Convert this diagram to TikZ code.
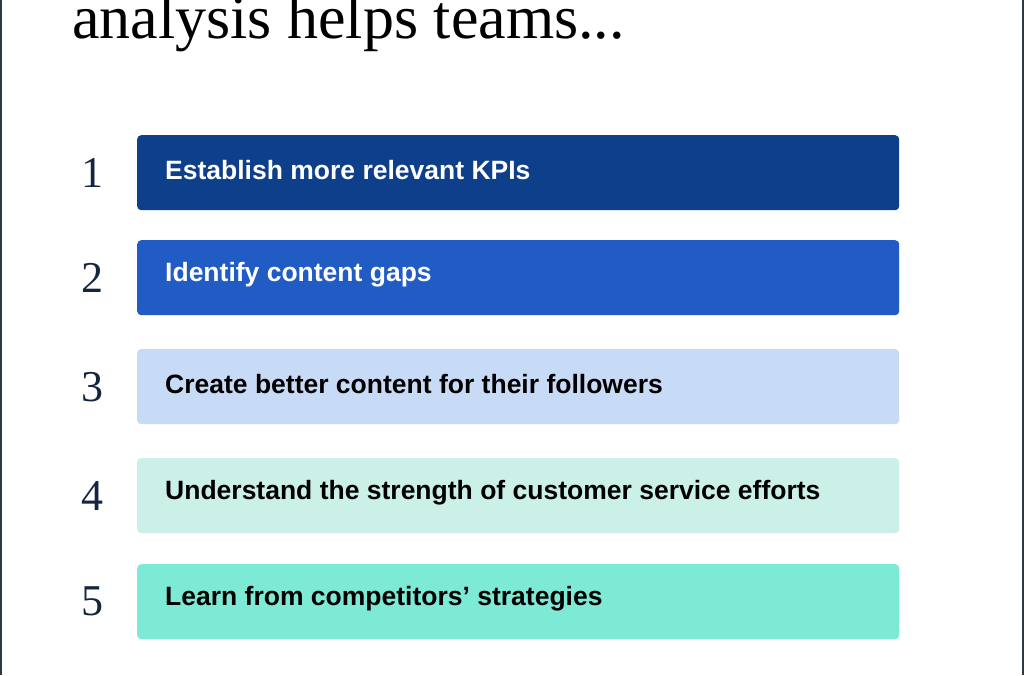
\documentclass[tikz,border=0pt]{standalone}
\usepackage{fontspec}
\setmainfont{Liberation Serif}
\setsansfont{Liberation Sans}
\definecolor{navy}{HTML}{0E3F8A}
\definecolor{royal}{HTML}{205CC4}
\definecolor{paleblue}{HTML}{C8DBF6}
\definecolor{palemint}{HTML}{CBF0E8}
\definecolor{mint}{HTML}{7DEAD6}
\definecolor{ink}{HTML}{14263F}
\definecolor{frame}{HTML}{2E3A40}
\tikzset{
  stepbox/.style={rounded corners=4pt, minimum width=762pt, minimum height=75pt,
    inner sep=0pt, anchor=north west},
  steptext/.style={anchor=west, inner sep=0pt, font=\sffamily\bfseries\fontsize{26.5}{30}\selectfont},
  stepnum/.style={font=\fontsize{44}{48}\selectfont, text=ink}
}
\begin{document}
\begin{tikzpicture}[x=1pt,y=-1pt]
\useasboundingbox (0,0) rectangle (1024,675);
\clip (0,0) rectangle (1024,675);
\draw[frame, line width=2pt] (1,0) -- (1,675);
\draw[frame, line width=2pt] (1023,0) -- (1023,675);

\node[anchor=base west, inner sep=0pt, font=\fontsize{62}{66}\selectfont] (title) at (72,38) {analysis helps teams...};

% steps
\foreach \i/\y/\c/\t/\s in {
  1/135/navy/white/Establish more relevant KPIs,
  2/240/royal/white/Identify content gaps,
  3/349/paleblue/black/Create better content for their followers,
  4/458/palemint/black/Understand the strength of customer service efforts,
  5/564/mint/black/Learn from competitors’ strategies}
{
  \node[stepbox, fill=\c] (box\i) at (137,\y) {};
  \node[steptext, text=\t] (lbl\i) at ([xshift=28pt, yshift=3pt]box\i.west) {\s};
  \node[stepnum] (num\i) at ([xshift=-45pt]box\i.west) {\i};
}
\end{tikzpicture}
\end{document}
